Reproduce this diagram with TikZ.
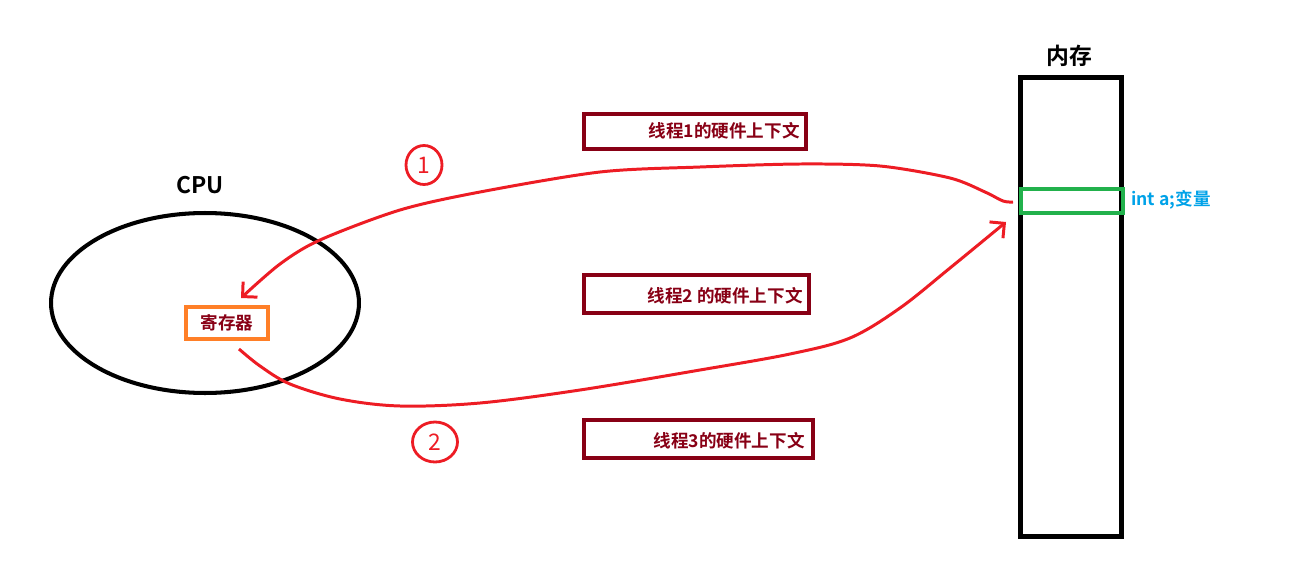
\documentclass[tikz,border=0pt]{standalone}
\usepackage{fontspec}
\newfontfamily\cjk{Noto Sans CJK SC}[BoldFont={Noto Sans CJK SC Bold}]
\usetikzlibrary{arrows.meta,shapes.geometric}
\definecolor{dred}{HTML}{880015}
\definecolor{pred}{HTML}{ED1C24}
\definecolor{porange}{HTML}{FF7F27}
\definecolor{pgreen}{HTML}{22B14C}
\definecolor{pblue}{HTML}{00A2E8}
\tikzset{
  thr/.style={draw=dred,line width=2.3pt,inner sep=0pt},
  thrtext/.style={text=dred,font=\cjk\bfseries\fontsize{10}{12}\selectfont,anchor=east,inner sep=0pt},
  title/.style={font=\cjk\bfseries\fontsize{13}{15}\selectfont,inner sep=0pt},
  flow/.style={draw=pred,line width=1.7pt,-{Straight Barb[angle=90:8.5pt]}},
  num/.style={ellipse,draw=pred,line width=1.6pt,text=pred,font=\cjk\fontsize{13}{15}\selectfont,inner sep=0pt}
}
\begin{document}
\begin{tikzpicture}[x=0.02cm,y=-0.02cm]
\useasboundingbox (0,0) rectangle (1315,571);
% CPU
\node[draw=black,line width=2.3pt,ellipse,minimum width=6.16cm,minimum height=3.6cm,inner sep=0pt] (cpu) at (205,303) {};
\node[title] (cputitle) at (200,185) {CPU};
\node[draw=porange,line width=2.3pt,minimum width=1.64cm,minimum height=0.64cm,inner sep=0pt,text=dred,font=\cjk\bfseries\fontsize{10}{12}\selectfont] (reg) at (227,323) {寄存器};
% memory
\node[draw=black,line width=2.8pt,minimum width=2.02cm,minimum height=9.18cm,inner sep=0pt] (mem) at (1071,307) {};
\node[title] (memtitle) at (1069,56) {内存};
\node[draw=pgreen,line width=2.3pt,minimum width=2.04cm,minimum height=0.48cm,inner sep=0pt] (var) at (1072,201) {};
\node[text=pblue,font=\cjk\bfseries\fontsize{10}{12}\selectfont,anchor=west,inner sep=0pt] (vartext) at (1131,200) {int a;变量};
% thread contexts
\node[thr,minimum width=4.44cm,minimum height=0.70cm] (t1) at (695,131.5) {};
\node[thrtext] (t1t) at (800,131) {线程1的硬件上下文};
\node[thr,minimum width=4.5cm,minimum height=0.76cm] (t2) at (696.5,294) {};
\node[thrtext] (t2t) at (803,296) {线程2 的硬件上下文};
\node[thr,minimum width=4.58cm,minimum height=0.76cm] (t3) at (698.5,439) {};
\node[thrtext] (t3t) at (805,441) {线程3的硬件上下文};
% connectors
\coordinate (s1) at (1013,202);
\coordinate (e1) at (241,298);
\coordinate (s2) at (239,349);
\coordinate (e2) at (1006,222);
\draw[flow] plot[smooth,tension=0.5] coordinates {(s1) (1003,201) (985,192) (950,178) (880,166) (800,164) (700,167) (600,172) (480,192) (400,210) (320,240) (280,264) (e1)};
\draw[flow] plot[smooth,tension=0.55] coordinates {(s2) (260,366) (290,384) (340,399) (400,406) (480,403) (580,390) (700,370) (790,354) (850,338) (900,308) (950,268) (e2)};
% step labels
\node[num,minimum width=0.72cm,minimum height=0.78cm] (n1) at (424,165) {1};
\node[num,minimum width=0.9cm,minimum height=0.8cm] (n2) at (435,442) {2};
\end{tikzpicture}
\end{document}
